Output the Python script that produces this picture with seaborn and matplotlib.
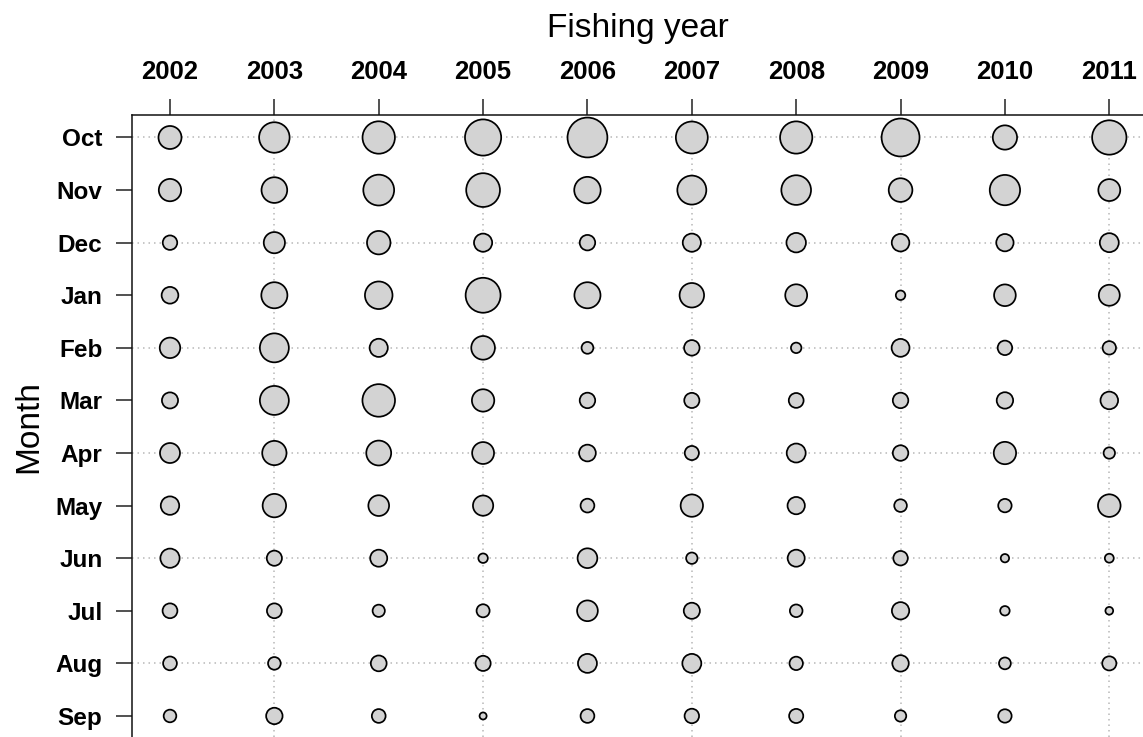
import numpy as np
import pandas as pd
import matplotlib
matplotlib.use("Agg")
import matplotlib.pyplot as plt
import seaborn as sns

# Fishing years (columns) and months of the fishing year (rows, Oct -> Sep)
years = [2002, 2003, 2004, 2005, 2006, 2007, 2008, 2009, 2010, 2011]
months = ["Oct", "Nov", "Dec", "Jan", "Feb", "Mar",
          "Apr", "May", "Jun", "Jul", "Aug", "Sep"]

# Relative catch per month, one list per month, ordered 2002..2011
catch_oct = [53, 93, 105, 131, 159, 102, 104, 144, 59, 118]
catch_nov = [50, 66, 95, 114, 70, 84, 88, 56, 92, 48]
catch_dec = [21, 45, 55, 33, 24, 33, 38, 31, 30, 36]
catch_jan = [28, 68, 76, 122, 68, 60, 48, 9, 47, 44]
catch_feb = [42, 84, 33, 56, 14, 24, 11, 32, 21, 18]
catch_mar = [26, 84, 106, 50, 24, 23, 22, 24, 27, 31]
catch_apr = [40, 59, 62, 48, 28, 20, 36, 24, 50, 13]
catch_may = [34, 55, 43, 41, 19, 50, 30, 16, 18, 51]
catch_jun = [37, 23, 29, 9, 39, 13, 29, 21, 7, 8]
catch_jul = [22, 22, 15, 17, 43, 26, 16, 30, 9, 6]
catch_aug = [19, 16, 25, 23, 36, 36, 18, 27, 14, 20]
catch_sep = [16, 27, 19, 5, 19, 21, 20, 13, 18, np.nan]

rows = [catch_oct, catch_nov, catch_dec, catch_jan, catch_feb, catch_mar,
        catch_apr, catch_may, catch_jun, catch_jul, catch_aug, catch_sep]

records = []
for m_idx, (month, vals) in enumerate(zip(months, rows)):
    for year, v in zip(years, vals):
        records.append({"year": year, "month": month, "mpos": m_idx, "catch": v})
df = pd.DataFrame(records).dropna()

sns.set_theme(style="white")
plt.rcParams["font.family"] = ["Liberation Sans", "DejaVu Sans"]

fig = plt.figure(figsize=(11.43, 7.37), dpi=100)
ax = fig.add_axes([132 / 1143, 0.0, 1 - 132 / 1143, 1 - 115.3 / 737])

# Circle area proportional to catch
vmax = 160
area_per_unit = 10 * (72 / 100) ** 2
sns.scatterplot(data=df, x="year", y="mpos", size="catch",
                size_norm=(0, vmax), sizes=(0, area_per_unit * vmax),
                color="#d3d3d3", edgecolor="black", linewidth=1.25,
                legend=False, ax=ax, zorder=3)

# Dotted guide lines on alternate months and alternate years
for m_idx in range(0, len(months), 2):
    ax.axhline(m_idx, color="#b8b8b8", lw=1.1, ls=(0, (1, 2.6)), zorder=1)
for year in years[1::2]:
    ax.axvline(year, color="#b8b8b8", lw=1.1, ls=(0, (1, 2.6)), zorder=1)

ax.set_xlim(2001.636, 2011.323)
ax.set_ylim(11.40, -0.422)

ax.xaxis.tick_top()
ax.xaxis.set_label_position("top")
ax.set_xticks(years)
ax.set_xticklabels([str(y) for y in years], fontweight="bold", fontsize=18.5)
ax.set_yticks(range(len(months)))
ax.set_yticklabels(months, fontweight="bold", fontsize=17.5)

ax.tick_params(axis="x", top=True, bottom=False, length=11.3, width=1.1,
               color="#222222", pad=11, labelcolor="black")
ax.tick_params(axis="y", left=True, length=11.3, width=1.1,
               color="#222222", pad=10, labelcolor="black")

for side in ["right", "bottom"]:
    ax.spines[side].set_visible(False)
for side in ["top", "left"]:
    ax.spines[side].set_color("#111111")
    ax.spines[side].set_linewidth(1.1)

ax.set_xlabel("Fishing year", fontsize=24, labelpad=17, color="black")
ax.set_ylabel("Month", fontsize=24, labelpad=8, color="black")

fig.savefig("out.png", dpi=100)
